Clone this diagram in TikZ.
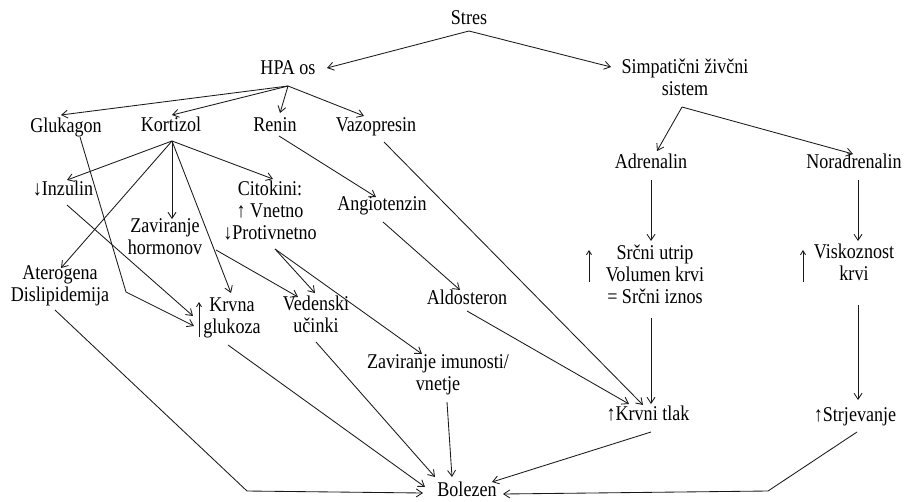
\documentclass[tikz,border=0pt]{standalone}
\usepackage{fontspec}
\setmainfont[FakeStretch=0.86]{Liberation Serif}
\usetikzlibrary{arrows.meta,calc}
\begin{document}
\begin{tikzpicture}[x=1pt,y=-1pt,
  lbl/.style={inner sep=0pt,align=center,font=\fontsize{21}{22}\selectfont},
  arr/.style={draw=black!90,line width=0.85pt,-{Straight Barb[length=6pt,width=8pt]}},
  uparr/.style={draw=black!90,line width=0.85pt,-{Straight Barb[length=4pt,width=5pt]}}]
\useasboundingbox (0,0) rectangle (904,501);
% nodes
\node[lbl] (stres) at (469,20) {\strut Stres};
\node[lbl] (hpa) at (288,70) {\strut HPA os};
\node[lbl] (simp) at (685,80.5) {\strut Simpatični živčni\\\strut sistem};
\node[lbl] (gluk) at (66,128) {\strut Glukagon};
\node[lbl] (kort) at (171,127) {\strut Kortizol};
\node[lbl] (renin) at (275,127) {\strut Renin};
\node[lbl] (vazo) at (376,127) {\strut Vazopresin};
\node[lbl] (adr) at (651,164) {\strut Adrenalin};
\node[lbl] (nor) at (854,164) {\strut Noradrenalin};
\node[lbl] (inz) at (63,191) {\strut ↓Inzulin};
\node[lbl] (zav) at (165,239) {\strut Zaviranje\\\strut hormonov};
\node[lbl] (cito) at (270,213.5) {\strut Citokini:\\\strut ↑ Vnetno\\\strut ↓Protivnetno};
\node[lbl] (angio) at (382,206) {\strut Angiotenzin};
\node[lbl] (ater) at (60,286.5) {\strut Aterogena\\\strut Dislipidemija};
\node[lbl] (krv) at (232,318) {\strut Krvna\\\strut glukoza};
\node[lbl] (ved) at (316,317.5) {\strut Vedenski\\\strut učinki};
\node[lbl] (aldo) at (467,300) {\strut Aldosteron};
\node[lbl] (zavim) at (438,375.5) {\strut Zaviranje imunosti/\\\strut vnetje};
\node[lbl] (srcni) at (655,277) {\strut Srčni utrip\\\strut Volumen krvi\\\strut = Srčni iznos};
\node[lbl] (visk) at (854,265) {\strut Viskoznost\\\strut krvi};
\node[lbl] (krvtlak) at (648,416) {\strut ↑Krvni tlak};
\node[lbl] (strj) at (855,417) {\strut ↑Strjevanje};
\node[lbl] (bol) at (467,492) {\strut Bolezen};
% tall up arrows
\draw[uparr] ($(krv)+(-33,19)$) -- ($(krv)+(-33,-16)$);
\draw[uparr] ($(srcni)+(-66,5)$) -- ($(srcni)+(-66,-27)$);
\draw[uparr] ($(visk)+(-51,17)$) -- ($(visk)+(-51,-15)$);
% connectors
\draw[arr] ($(stres)+(0,11)$) -- ($(hpa)+(39,-2)$);
\draw[arr] ($(stres)+(0,11)$) -- ($(simp)+(-74,-13.5)$);
\draw[arr] ($(hpa)+(0,16)$) -- ($(gluk)+(-5,-13)$);
\draw[arr] ($(hpa)+(0,16)$) -- ($(kort)+(1,-12)$);
\draw[arr] ($(hpa)+(0,16)$) -- ($(renin)+(5,-14)$);
\draw[arr] ($(hpa)+(0,16)$) -- ($(vazo)+(-12,-11)$);
\draw[arr] ($(gluk)+(14,9)$) -- (126,292) -- ($(krv)+(-38,8)$);
\draw[arr] ($(inz)+(4,14)$) -- ($(krv)+(-39,-2)$);
\draw[arr] ($(kort)+(1,14)$) -- ($(inz)+(4,-11)$);
\draw[arr] ($(kort)+(1,14)$) -- ($(ater)+(1,-18.5)$);
\draw[arr] ($(kort)+(1,14)$) -- ($(zav)+(7,-20)$);
\draw[arr] ($(kort)+(1,14)$) -- ($(krv)+(-1,-25)$);
\draw[arr] ($(kort)+(1,14)$) -- ($(cito)+(3,-34.5)$);
\draw[arr] ($(zav)+(51,11)$) -- ($(ved)+(-18,-20.5)$);
\draw[arr] ($(cito)+(5,35.5)$) -- ($(ved)+(-1,-24.5)$);
\draw[arr] ($(cito)+(5,35.5)$) -- ($(zavim)+(-16,-21.5)$);
\draw[arr] ($(renin)+(4,9)$) -- ($(angio)+(-6,-9)$);
\draw[arr] ($(angio)+(1,16)$) -- ($(aldo)+(-7,-10)$);
\draw[arr] ($(aldo)+(0,11)$) -- ($(krvtlak)+(-19,-12)$);
\draw[arr] ($(vazo)+(8,15)$) -- ($(krvtlak)+(-5,-11)$);
\draw[arr] ($(simp)+(-3,26.5)$) -- ($(adr)+(6,-13)$);
\draw[arr] ($(simp)+(-3,26.5)$) -- ($(nor)+(-1,-10)$);
\draw[arr] ($(adr)+(0,16)$) -- ($(srcni)+(-4,-36)$);
\draw[arr] ($(nor)+(4,16)$) -- ($(visk)+(4,-24)$);
\draw[arr] ($(srcni)+(-4,41)$) -- ($(krvtlak)+(3,-12)$);
\draw[arr] ($(visk)+(4,40)$) -- ($(strj)+(3,-17)$);
\draw[arr] ($(krvtlak)+(3,16)$) -- ($(bol)+(25,-10)$);
\draw[arr] ($(strj)+(2,15)$) -- (768,491) -- ($(bol)+(36,2)$);
\draw[arr] ($(ater)+(-5,23.5)$) -- (247,491) -- ($(bol)+(-44,1)$);
\draw[arr] ($(krv)+(-4,27)$) -- ($(bol)+(-42,-5)$);
\draw[arr] ($(ved)+(0,24.5)$) -- ($(bol)+(-32,-15)$);
\draw[arr] ($(zavim)+(9,26.5)$) -- ($(bol)+(-15,-15)$);
\end{tikzpicture}
\end{document}
